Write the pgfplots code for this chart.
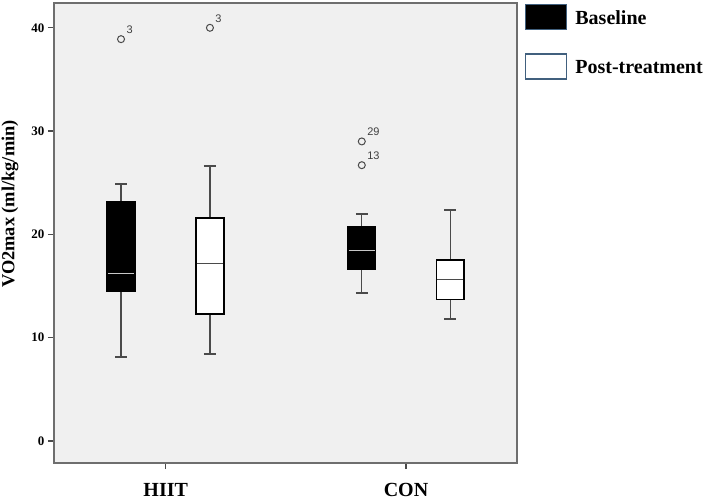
\documentclass[border=0pt]{standalone}
\usepackage{fontspec}
\setmainfont{Liberation Serif}
\newfontfamily\arialfont{Liberation Sans}
\usepackage{pgfplots}
\pgfplotsset{compat=1.18}

\definecolor{bggray}{HTML}{F0F0F0}
\definecolor{framegray}{HTML}{6E6E6E}
\definecolor{whiskgray}{HTML}{4A4A4A}
\definecolor{legedge}{HTML}{41607E}

% #1 position, #2 lower whisker, #3 lower quartile, #4 median,
% #5 upper quartile, #6 upper whisker, #7 box fill, #8 median colour
\newcommand{\spssbox}[8]{%
  \addplot[forget plot, whiskgray, line width=1.4pt] coordinates {(#1,#2) (#1,#3)};
  \addplot[forget plot, whiskgray, line width=1.4pt] coordinates {(#1,#5) (#1,#6)};
  \addplot[forget plot, whiskgray, line width=1.8pt] coordinates {({#1-0.025},#2) ({#1+0.025},#2)};
  \addplot[forget plot, whiskgray, line width=1.8pt] coordinates {({#1-0.025},#6) ({#1+0.025},#6)};
  \addplot[forget plot, draw=black, fill=#7, line width=1.8pt, line join=miter]
    coordinates {({#1-0.057},#3) ({#1+0.057},#3) ({#1+0.057},#5) ({#1-0.057},#5)} -- cycle;
  \addplot[forget plot, #8, line width=1pt] coordinates {({#1-0.055},#4) ({#1+0.055},#4)};
}

\begin{document}
\begin{tikzpicture}
\begin{axis}[
  scale only axis,
  width=463pt, height=460pt,
  xmin=-0.465, xmax=1.462,
  ymin=-2.13, ymax=42.4,
  axis background/.style={fill=bggray},
  axis line style={framegray, line width=1.5pt},
  xtick={0,1}, xticklabels={HIIT,CON},
  ytick={0,10,20,30,40},
  xtick pos=bottom, ytick pos=left,
  tick align=outside,
  major tick length=6pt,
  tick style={whiskgray, line width=1.2pt},
  yticklabel style={font=\fontsize{13}{13}\selectfont\bfseries},
  /pgf/number format/assume math mode=true,
  xticklabel style={font=\fontsize{20}{20}\selectfont\bfseries, yshift=-11pt},
  ylabel={VO2max (ml/kg/min)},
  ylabel style={at={(axis description cs:-0.095,0.563)}, anchor=center,
    font=\fontsize{18.4}{18.4}\selectfont\bfseries},
  legend style={at={(axis description cs:1,1)}, anchor=north west,
    xshift=8pt, yshift=-1pt, draw=none, fill=none, inner sep=0pt,
    row sep=23pt, column sep=0pt,
    nodes={inner sep=0pt, text depth=0pt},
    font=\fontsize{20}{20}\selectfont\bfseries},
  legend cell align=left,
]
\addlegendimage{legend image code/.code={\draw[draw=legedge, fill=black, line width=1.2pt] (0pt,-12.5pt) rectangle (41pt,12.5pt);}}
\addlegendimage{legend image code/.code={\draw[draw=legedge, fill=white, line width=1.2pt] (0pt,-12.5pt) rectangle (41pt,12.5pt);}}
\legend{\hspace{8pt}Baseline, \hspace{8pt}Post-treatment}

% Baseline (black boxes)
\spssbox{-0.186}{8.1}{14.5}{16.2}{23.1}{24.9}{black}{white!78!black}
\spssbox{0.816}{14.3}{16.65}{18.4}{20.7}{22.0}{black}{white!78!black}
% Post-treatment (white boxes)
\spssbox{0.184}{8.45}{12.3}{17.2}{21.6}{26.6}{white}{whiskgray}
\spssbox{1.184}{11.8}{13.7}{15.6}{17.5}{22.4}{white}{whiskgray}

% outliers
\addplot[forget plot, only marks, mark=o, mark size=3.5pt,
  draw=whiskgray, line width=1pt,
  nodes near coords, point meta=explicit symbolic,
  every node near coord/.style={font=\arialfont\fontsize{11}{11}\selectfont,
    text=black!75, anchor=south west, inner sep=0pt, xshift=5pt, yshift=5pt}]
  table[meta=label] {
  x      y     label
  -0.186 38.9  3
  0.184  40.0  3
  0.816  29.0  29
  0.816  26.7  13
};
\end{axis}
\pgfresetboundingbox
\path (current axis.south west) ++(-54pt,-38pt) rectangle ++(709pt,501pt);
\end{tikzpicture}
\end{document}
